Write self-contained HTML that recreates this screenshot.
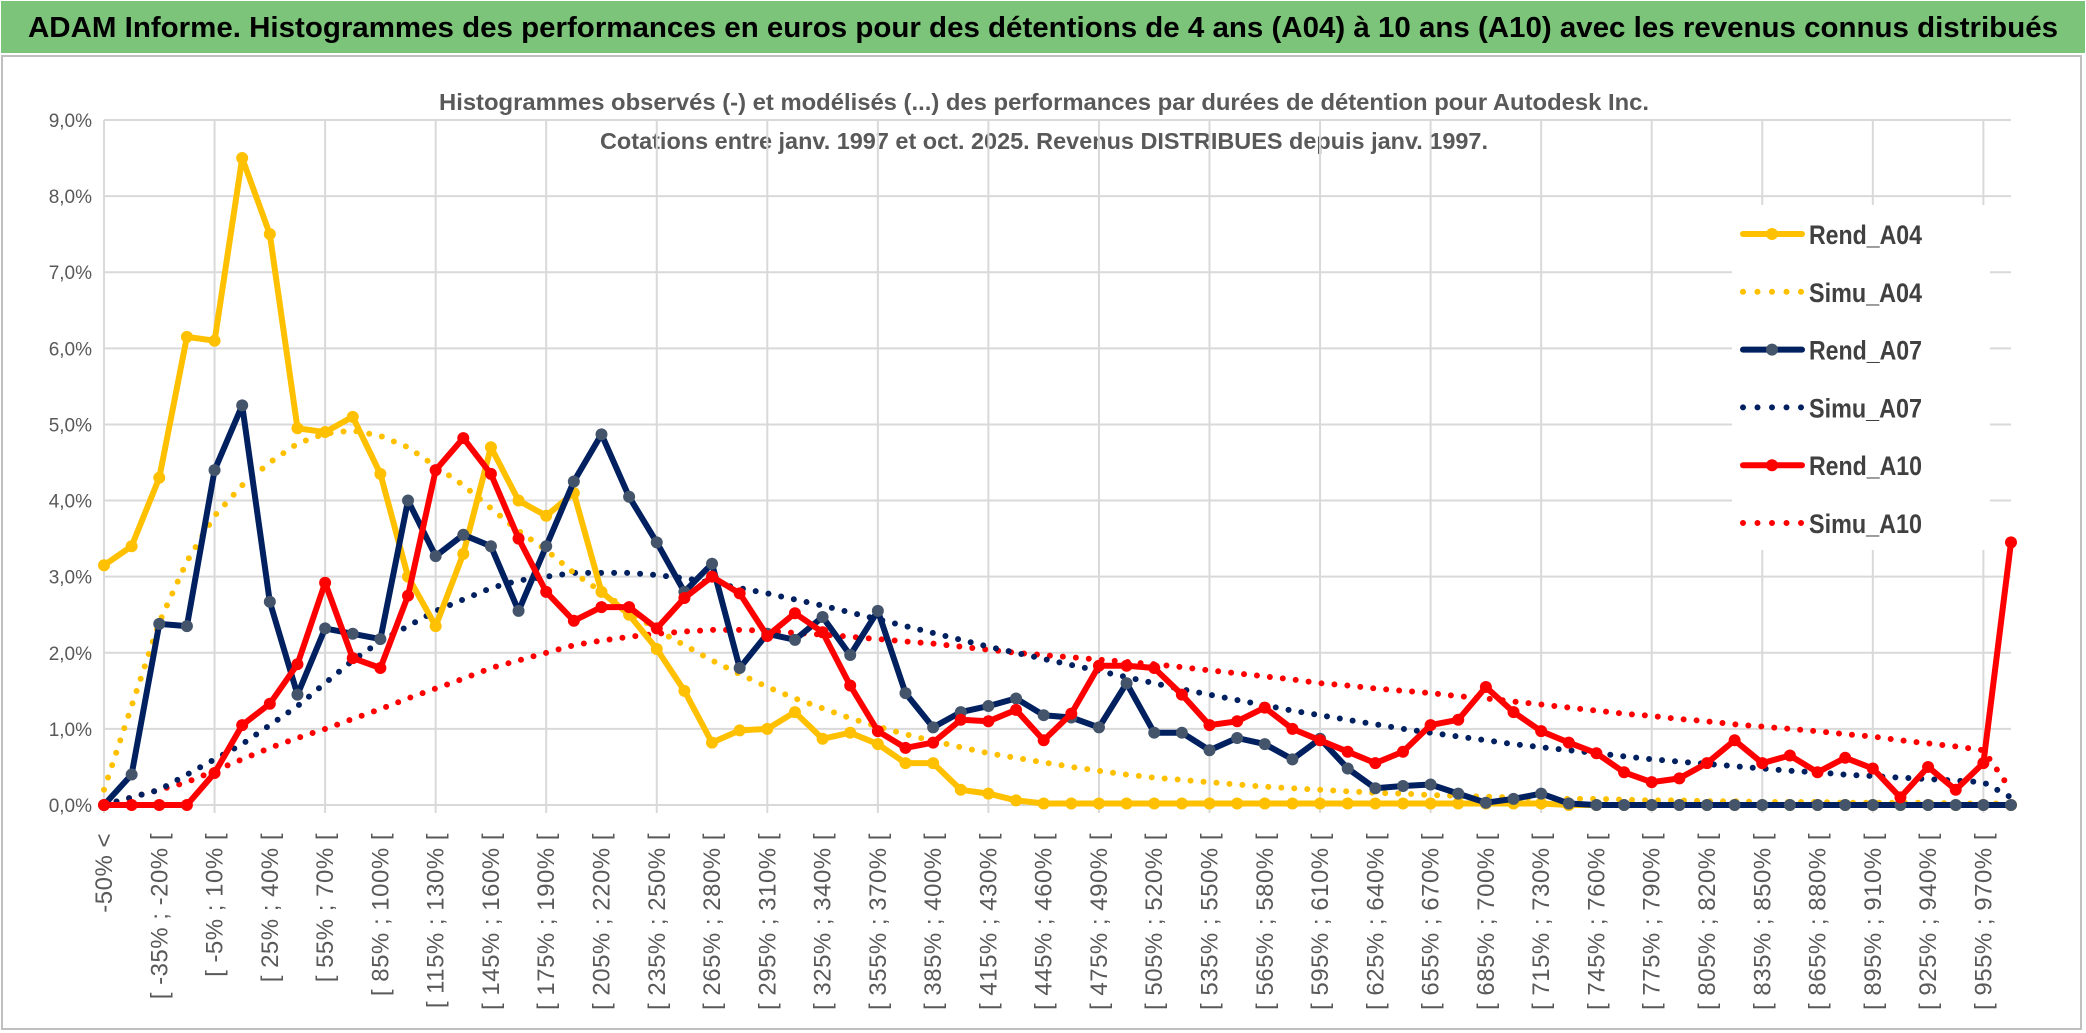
<!DOCTYPE html>
<html><head><meta charset="utf-8"><style>
html,body{margin:0;padding:0;background:#fff;}
svg{display:block;font-family:"Liberation Sans",sans-serif;}
</style></head><body>
<svg id="chart" width="2086" height="1033" viewBox="0 0 2086 1033">
<rect x="0" y="0" width="2086" height="1033" fill="#fff"/>
<rect x="1" y="1" width="2084" height="52" fill="#7cc47a"/>
<text x="1043" y="37" text-anchor="middle" font-size="29" font-weight="bold" fill="#000" textLength="2030" lengthAdjust="spacingAndGlyphs">ADAM Informe. Histogrammes des performances en euros pour des détentions de 4 ans (A04) à 10 ans (A10) avec les revenus connus distribués</text>
<rect x="2" y="56" width="2079" height="973" fill="none" stroke="#bfbfbf" stroke-width="2"/>
<text x="1044" y="110" text-anchor="middle" font-size="23" font-weight="bold" fill="#595959" textLength="1210" lengthAdjust="spacingAndGlyphs">Histogrammes observés (-) et modélisés (...) des performances par durées de détention pour Autodesk Inc.</text>
<text x="1044" y="149" text-anchor="middle" font-size="23" font-weight="bold" fill="#595959" textLength="888" lengthAdjust="spacingAndGlyphs">Cotations entre janv. 1997 et oct. 2025. Revenus DISTRIBUES depuis janv. 1997.</text>
<g id="grid"></g>
<g id="yaxis"></g>
<g id="xaxis"></g>
<g id="series"></g>
<g id="legend"></g>
</svg>
<script>
const categories = ["-50% <"];
for (let k = 1; k < 70; k++) { const a = -50 + 15 * (k - 1); categories.push("[ " + a + "% ; " + (a + 15) + "% ["); }
const yTicks = [0,1,2,3,4,5,6,7,8,9];
const rendA04 = [3.15,3.4,4.3,6.15,6.1,8.5,7.5,4.95,4.9,5.1,4.35,3.0,2.35,3.3,4.7,4.0,3.8,4.1,2.8,2.5,2.05,1.5,0.82,0.98,1.0,1.22,0.87,0.95,0.8,0.55,0.55,0.2,0.15,0.06,0.02,0.02,0.02,0.02,0.02,0.02,0.02,0.02,0.02,0.02,0.02,0.02,0.02,0.02,0.02,0.02,0.02,0.02,0.02,0,0,0,0,0,0,0,0,0,0,0,0,0,0,0,0,0];
const simuA04 = [0.2,1.3,2.4,3.2,3.8,4.2,4.5,4.75,4.88,4.92,4.85,4.7,4.45,4.2,3.9,3.6,3.35,3.05,2.8,2.55,2.3,2.1,1.9,1.72,1.55,1.4,1.27,1.14,1.03,0.93,0.84,0.76,0.68,0.62,0.56,0.5,0.45,0.4,0.36,0.33,0.3,0.27,0.24,0.22,0.2,0.18,0.16,0.15,0.13,0.12,0.11,0.1,0.09,0.08,0.08,0.07,0.06,0.06,0.05,0.05,0.04,0.04,0.04,0.03,0.03,0.03,0.03,0.02,0.02,0.02];
const rendA07 = [0,0.4,2.38,2.35,4.4,5.25,2.67,1.45,2.32,2.25,2.18,4.0,3.27,3.55,3.4,2.55,3.4,4.25,4.87,4.05,3.45,2.8,3.17,1.8,2.25,2.17,2.47,1.97,2.55,1.47,1.02,1.22,1.3,1.4,1.18,1.15,1.02,1.6,0.95,0.95,0.72,0.88,0.8,0.6,0.87,0.48,0.22,0.25,0.27,0.15,0.03,0.08,0.15,0.02,0,0,0,0,0,0,0,0,0,0,0,0,0,0,0,0];
const simuA07 = [0,0.1,0.2,0.4,0.6,0.8,1.05,1.3,1.6,1.9,2.15,2.35,2.55,2.7,2.85,2.95,3.0,3.05,3.05,3.05,3.02,2.98,2.92,2.85,2.78,2.7,2.62,2.53,2.44,2.35,2.26,2.17,2.08,2.0,1.92,1.84,1.76,1.68,1.6,1.52,1.45,1.38,1.31,1.24,1.18,1.12,1.06,1.0,0.95,0.9,0.85,0.8,0.76,0.72,0.68,0.64,0.6,0.57,0.54,0.51,0.48,0.45,0.43,0.4,0.38,0.36,0.34,0.32,0.3,0.1];
const rendA10 = [0,0,0,0,0.42,1.05,1.33,1.85,2.92,1.93,1.8,2.75,4.4,4.82,4.35,3.5,2.8,2.42,2.6,2.6,2.32,2.72,3.0,2.78,2.22,2.52,2.27,1.57,0.97,0.75,0.82,1.12,1.1,1.25,0.85,1.2,1.83,1.83,1.8,1.45,1.05,1.1,1.28,1.0,0.85,0.7,0.55,0.7,1.05,1.12,1.55,1.22,0.97,0.82,0.68,0.43,0.3,0.35,0.55,0.85,0.55,0.65,0.43,0.62,0.48,0.1,0.5,0.2,0.55,3.45];
const simuA10 = [0,0.1,0.2,0.3,0.45,0.6,0.75,0.88,1.0,1.13,1.26,1.4,1.53,1.66,1.8,1.9,2.0,2.1,2.16,2.21,2.25,2.28,2.3,2.3,2.29,2.26,2.24,2.21,2.18,2.15,2.12,2.08,2.04,2.0,1.97,1.94,1.91,1.88,1.85,1.81,1.77,1.73,1.69,1.65,1.6,1.57,1.53,1.5,1.47,1.43,1.4,1.36,1.32,1.28,1.24,1.2,1.17,1.13,1.1,1.06,1.03,1.0,0.97,0.93,0.9,0.85,0.81,0.77,0.72,0.2];
const legendLabels = ["Rend_A04","Simu_A04","Rend_A07","Simu_A07","Rend_A10","Simu_A10"];

const NS = "http://www.w3.org/2000/svg";
const X0 = 104, X1 = 2011, Y0 = 805, Y9 = 120, YMAX = 9;
function xPos(i){ return X0 + (X1 - X0) * i / (categories.length - 1); }
function yPos(v){ return Y0 - (Y0 - Y9) * v / YMAX; }
function mk(tag, attrs, parent){ const e = document.createElementNS(NS, tag); for (const k in attrs) e.setAttribute(k, attrs[k]); parent.appendChild(e); return e; }

const grid = document.getElementById('grid');
yTicks.forEach(t => {
  const l = mk('line', {x1:X0, x2:X1, y1:yPos(t), y2:yPos(t), stroke:'#d9d9d9', 'stroke-width':2}, grid);
  
  
});
for (let i = 0; i < categories.length; i += 4) {
  const l = mk('line', {x1:xPos(i), x2:xPos(i), y1:Y9, y2:Y0 + 8, stroke:'#d9d9d9', 'stroke-width':2}, grid);
  
  
}
const ya = document.getElementById('yaxis');
yTicks.forEach(t => {
  const tx = mk('text', {x:92, y:yPos(t) + 7, 'text-anchor':'end', 'font-size':19, fill:'#595959'}, ya);
  tx.textContent = t.toFixed(1).replace('.', ',') + '%';
  
  
});
const xa = document.getElementById('xaxis');
for (let i = 0; i < categories.length; i += 2) {
  const x = xPos(i) + 8, y = 833;
  const tx = mk('text', {x:x, y:y, 'text-anchor':'end', 'font-size':24, 'letter-spacing':'0.5', fill:'#595959', transform:'rotate(-90 ' + x + ' ' + y + ')'}, xa);
  tx.textContent = categories[i];
  
  
}
const sg = document.getElementById('series');
function pts(arr){ return arr.map((v,i) => xPos(i).toFixed(1) + ',' + yPos(v).toFixed(1)).join(' '); }
function dotted(arr, color, name){
  const p = mk('polyline', {points:pts(arr), fill:'none', stroke:color, 'stroke-width':6, 'stroke-linecap':'round', 'stroke-dasharray':'0 13'}, sg);
  
  
}
function solid(arr, color, mcolor, name){
  const p = mk('polyline', {points:pts(arr), fill:'none', stroke:color, 'stroke-width':6, 'stroke-linejoin':'round'}, sg);
  
  
  arr.forEach((v,i) => {
    const c = mk('circle', {cx:xPos(i), cy:yPos(v), r:6, fill:mcolor}, sg);
    
    
  });
}
dotted(simuA10, '#ff0000', 'simu-a10-line');
dotted(simuA07, '#002060', 'simu-a07-line');
dotted(simuA04, '#ffc000', 'simu-a04-line');
solid(rendA04, '#ffc000', '#ffc000', 'rend-a04-line');
solid(rendA07, '#002060', '#44546a', 'rend-a07-line');
solid(rendA10, '#ff0000', '#ff0000', 'rend-a10-line');

const lg = document.getElementById('legend');
const bg = mk('rect', {x:1732, y:205, width:258, height:345, fill:'#fff'}, lg);


const lcolors = ['#ffc000','#ffc000','#002060','#002060','#ff0000','#ff0000'];
const lmarker = ['#ffc000',null,'#44546a',null,'#ff0000',null];
legendLabels.forEach((lab, k) => {
  const y = 234 + k * 57.8;
  const g = mk('g', {}, lg);
  
  
  if (k % 2 === 0) {
    mk('line', {x1:1743, x2:1802, y1:y, y2:y, stroke:lcolors[k], 'stroke-width':6, 'stroke-linecap':'round'}, g);
    mk('circle', {cx:1772, cy:y, r:6, fill:lmarker[k]}, g);
  } else {
    mk('line', {x1:1743, x2:1802, y1:y, y2:y, stroke:lcolors[k], 'stroke-width':6, 'stroke-linecap':'round', 'stroke-dasharray':'0 14.5'}, g);
  }
  const t = mk('text', {x:1809, y:y + 10, 'font-size':27, 'font-weight':'bold', fill:'#404040', textLength:113, lengthAdjust:'spacingAndGlyphs'}, g);
  t.textContent = lab;
});
</script>
</body></html>
